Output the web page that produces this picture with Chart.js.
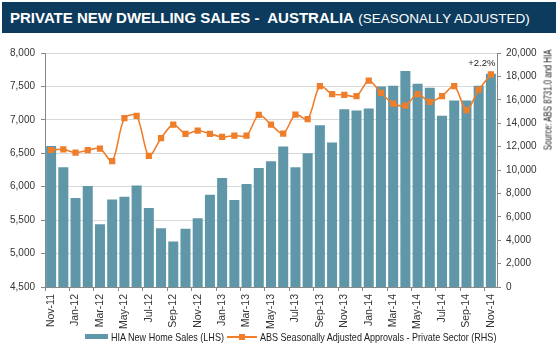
<!DOCTYPE html>
<html>
<head>
<meta charset="utf-8">
<script src="https://cdn.jsdelivr.net/npm/chart.js@4"></script>
<style>
  body { margin: 0; background: #fff; font-family: 'Liberation Sans', Arial, sans-serif; }
  #wrap { position: relative; width: 560px; height: 348px; overflow: hidden; }
  #chart { position: absolute; left: 0; top: 0; }
  #header { position: absolute; left: 2px; top: 2px; width: 554px; height: 31px; background: #0d3b5d;
            color: #fff; line-height: 31px; padding-left: 8px; box-sizing: border-box; white-space: nowrap; }
  #header b { font-size: 15px; }
  #header span { font-size: 13.5px; }
  .lg { position: absolute; font-size: 10.5px; color: #222; white-space: nowrap; transform: scaleX(0.86); transform-origin: 0 0; line-height: 12px; }
  #source { position: absolute; left: 548px; top: 100px; font-size: 10px; color: #222; white-space: nowrap;
            transform: translate(-50%, -50%) rotate(-90deg) scaleX(0.78); }
</style>
</head>
<body>
<div id="wrap">
  <canvas id="chart" width="560" height="348"></canvas>
  <div id="header"><b>PRIVATE NEW DWELLING SALES -&nbsp; AUSTRALIA</b> <span>(SEASONALLY ADJUSTED)</span></div>
  <div id="source">Source: ABS 8731.0 and HIA</div>
  <div style="position:absolute;left:85px;top:334px;width:23px;height:5px;background:#5f97a8"></div>
  <div class="lg" style="left:111px;top:331px">HIA New Home Sales (LHS)</div>
  <div style="position:absolute;left:227px;top:336px;width:30px;height:2px;background:#ef7e2b"></div>
  <div style="position:absolute;left:239px;top:334px;width:6px;height:6px;background:#ef7e2b"></div>
  <div class="lg" style="left:260px;top:331px">ABS Seasonally Adjusted Approvals - Private Sector (RHS)</div>
</div>
<script>
const months = ["Nov-11","Dec-11","Jan-12","Feb-12","Mar-12","Apr-12","May-12","Jun-12","Jul-12","Aug-12","Sep-12","Oct-12",
  "Nov-12","Dec-12","Jan-13","Feb-13","Mar-13","Apr-13","May-13","Jun-13","Jul-13","Aug-13","Sep-13","Oct-13",
  "Nov-13","Dec-13","Jan-14","Feb-14","Mar-14","Apr-14","May-14","Jun-14","Jul-14","Aug-14","Sep-14","Oct-14","Nov-14"];

// HIA new home sales (LHS)
const hiaSales = [6610, 6290, 5830, 6010, 5440, 5810, 5850, 6020, 5680, 5380, 5180, 5370,
  5530, 5880, 6130, 5800, 6040, 6280, 6380, 6600, 6290, 6500, 6920, 6660,
  7160, 7140, 7170, 7500, 7510, 7730, 7540, 7480, 7060, 7290, 7290, 7510, 7690];

// ABS seasonally adjusted approvals, private sector (RHS)
const absApprovals = [11710, 11770, 11480, 11690, 11830, 10750, 14430, 14630, 11200, 12720, 13880, 13090,
  13370, 13090, 12830, 12940, 12940, 14710, 13880, 13110, 14740, 14340, 17170, 16490,
  16430, 16320, 17630, 16600, 15680, 15510, 16490, 15830, 16320, 17170, 15120, 16860, 18170];

const leftTicks = { min: 4500, max: 8000, step: 500 };
const rightTicks = { min: 0, max: 20000, step: 2000 };
const lastChange = "+2.2%";

Chart.defaults.font.family = "'Liberation Sans', Arial, sans-serif";
Chart.defaults.color = "#333";

const fmt = v => v.toLocaleString("en-US");

const changeLabel = {
  id: "changeLabel",
  afterDatasetsDraw(chart) {
    const meta = chart.getDatasetMeta(1);
    const pt = meta.data[meta.data.length - 1];
    const ctx = chart.ctx;
    ctx.save();
    ctx.font = "9.5px 'Liberation Sans', Arial, sans-serif";
    ctx.fillStyle = "#222";
    ctx.textAlign = "center";
    ctx.textBaseline = "bottom";
    ctx.fillText(lastChange, pt.x - 9, pt.y - 6);
    ctx.restore();
  }
};

new Chart(document.getElementById("chart"), {
  type: "bar",
  data: {
    labels: months,
    datasets: [
      {
        label: "HIA New Home Sales (LHS)",
        data: hiaSales,
        backgroundColor: "#5f97a8",
        borderWidth: 0,
        barPercentage: 0.82,
        categoryPercentage: 1,
        yAxisID: "y",
        order: 2
      },
      {
        type: "line",
        label: "ABS Seasonally Adjusted Approvals - Private Sector (RHS)",
        data: absApprovals,
        borderColor: "#ef7e2b",
        borderWidth: 1.6,
        backgroundColor: "#ef7e2b",
        pointStyle: "rect",
        pointRadius: 4.4,
        pointBorderWidth: 0,
        tension: 0.3,
        yAxisID: "y1",
        order: 1
      }
    ]
  },
  options: {
    responsive: false,
    animation: false,
    layout: { padding: { top: 53, left: 0, right: 0, bottom: 0 } },
    plugins: { legend: { display: false }, tooltip: { enabled: false } },
    scales: {
      x: {
        offset: true,
        grid: {
          offset: true,
          drawOnChartArea: false,
          tickLength: 4,
          tickColor: c => (c.index % 2 === 0 ? "#888" : "rgba(0,0,0,0)")
        },
        border: { color: "#888" },
        ticks: {
          autoSkip: false,
          minRotation: 90,
          maxRotation: 90,
          padding: 3,
          font: { size: 10.5 },
          color: "#333",
          callback: (v, i) => (i % 2 === 0 ? months[i] : "")
        },
        afterFit: s => { s.height = 61; }
      },
      y: {
        position: "left",
        min: leftTicks.min,
        max: leftTicks.max,
        grid: { color: "#d9d9d9", tickColor: "#888", tickLength: 4 },
        border: { color: "#888" },
        ticks: { stepSize: leftTicks.step, padding: 6, font: { size: 10 }, color: "#333", callback: v => fmt(v) },
        afterFit: s => { s.width = 45; }
      },
      y1: {
        position: "right",
        min: rightTicks.min,
        max: rightTicks.max,
        grid: { drawOnChartArea: false, tickColor: "#888", tickLength: 4 },
        border: { color: "#888" },
        ticks: { stepSize: rightTicks.step, padding: 5, font: { size: 10 }, color: "#333", callback: v => fmt(v) },
        afterFit: s => { s.width = 63; }
      }
    }
  },
  plugins: [changeLabel]
});
</script>
</body>
</html>
